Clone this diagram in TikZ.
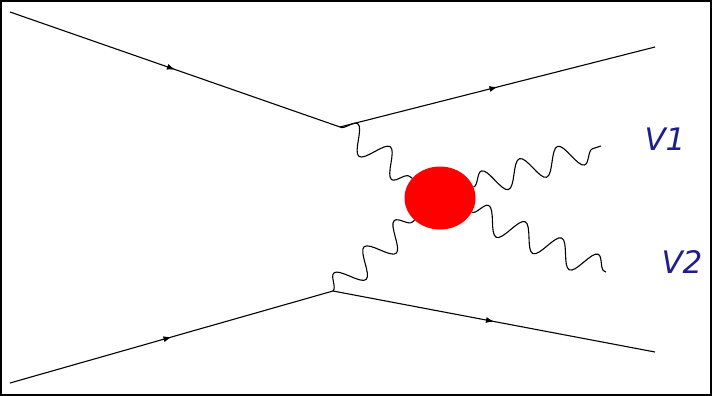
\documentclass[tikz,border=0pt]{standalone}
\usepackage{fontspec}
\setsansfont{DejaVu Sans}
\usepackage{tikz}
\usetikzlibrary{arrows.meta, positioning, calc, shapes.geometric,
  decorations.pathmorphing, decorations.markings}
\definecolor{labelblue}{RGB}{30,30,140}
\tikzset{
  fermion/.style={line width=1.1pt, postaction={decorate},
    decoration={markings, mark=at position 0.5 with {\arrow{Latex[length=8pt,width=6pt]}}}},
  photon/.style={line width=1.1pt, decorate,
    decoration={snake, amplitude=13pt, segment length=40pt}},
  blob/.style={ellipse, fill=red, draw=none, minimum width=71pt, minimum height=63pt},
  lbl/.style={text=labelblue, font=\fontsize{31}{36}\selectfont\sffamily\itshape},
}

\begin{document}
\begin{tikzpicture}[x=1pt, y=-1pt]
    \useasboundingbox (0,0) rectangle (712,396);
    \draw[line width=1.5pt] (1,1) rectangle (711,395);
    % vertices and line ends
    \coordinate (in1) at (10,12);
    \coordinate (va) at (340,127);
    \coordinate (out1) at (655,47);
    \coordinate (in2) at (10,383);
    \coordinate (vb) at (333,291);
    \coordinate (out2) at (655,352);
    \coordinate (e1) at (601,146);
    \coordinate (e2) at (606,272);
    \node[blob] (hb) at (440,198) {};
    \node[lbl] (v1) at (665,139) {V1};
    \node[lbl] (v2) at (682,262) {V2};
    % quark lines
    \draw[fermion] (in1) -- (va);
    \draw[fermion] (va) -- (out1);
    \draw[fermion] (in2) -- (vb);
    \draw[fermion] (vb) -- (out2);
    % bosons
    \draw[photon] (va) -- (hb);
    \draw[photon] (vb) -- (hb);
    \draw[photon] (hb) -- (e1);
    \draw[photon] (hb) -- (e2);
\end{tikzpicture}
\end{document}
